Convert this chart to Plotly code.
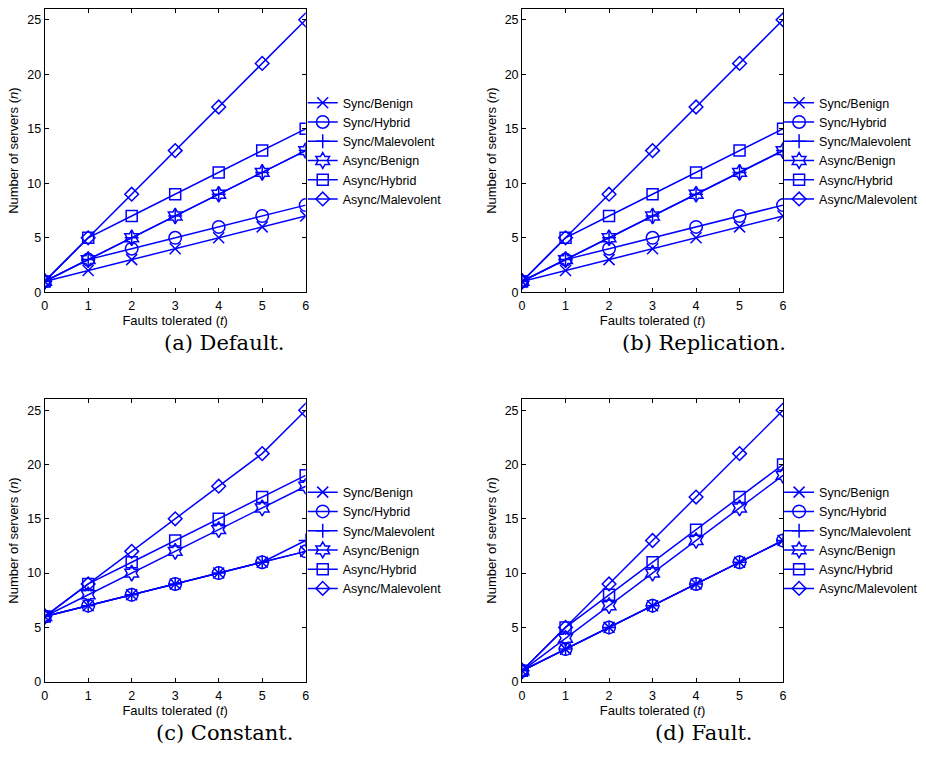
import plotly.graph_objects as go

# ---------------- data ----------------
t = [0, 1, 2, 3, 4, 5, 6]
series_names = ["Sync/Benign", "Sync/Hybrid", "Sync/Malevolent",
                "Async/Benign", "Async/Hybrid", "Async/Malevolent"]

default_sync_benign = [1, 2, 3, 4, 5, 6, 7]
default_sync_hybrid = [1, 3, 4, 5, 6, 7, 8]
default_sync_malevolent = [1, 3, 5, 7, 9, 11, 13]
default_async_benign = [1, 3, 5, 7, 9, 11, 13]
default_async_hybrid = [1, 5, 7, 9, 11, 13, 15]
default_async_malevolent = [1, 5, 9, 13, 17, 21, 25]

replication_sync_benign = [1, 2, 3, 4, 5, 6, 7]
replication_sync_hybrid = [1, 3, 4, 5, 6, 7, 8]
replication_sync_malevolent = [1, 3, 5, 7, 9, 11, 13]
replication_async_benign = [1, 3, 5, 7, 9, 11, 13]
replication_async_hybrid = [1, 5, 7, 9, 11, 13, 15]
replication_async_malevolent = [1, 5, 9, 13, 17, 21, 25]

constant_sync_benign = [6, 7, 8, 9, 10, 11, 12]
constant_sync_hybrid = [6, 7, 8, 9, 10, 11, 12]
constant_sync_malevolent = [6, 7, 8, 9, 10, 11, 13]
constant_async_benign = [6, 8, 10, 12, 14, 16, 18]
constant_async_hybrid = [6, 9, 11, 13, 15, 17, 19]
constant_async_malevolent = [6, 9, 12, 15, 18, 21, 25]

fault_sync_benign = [1, 3, 5, 7, 9, 11, 13]
fault_sync_hybrid = [1, 3, 5, 7, 9, 11, 13]
fault_sync_malevolent = [1, 3, 5, 7, 9, 11, 13]
fault_async_benign = [1, 4, 7, 10, 13, 16, 19]
fault_async_hybrid = [1, 5, 8, 11, 14, 17, 20]
fault_async_malevolent = [1, 5, 9, 13, 17, 21, 25]

x_ticks = [0, 1, 2, 3, 4, 5, 6]
y_ticks = [0, 5, 10, 15, 20, 25]
captions = ["(a) Default.", "(b) Replication.", "(c) Constant.", "(d) Fault."]

panels = [
    [default_sync_benign, default_sync_hybrid, default_sync_malevolent,
     default_async_benign, default_async_hybrid, default_async_malevolent],
    [replication_sync_benign, replication_sync_hybrid, replication_sync_malevolent,
     replication_async_benign, replication_async_hybrid, replication_async_malevolent],
    [constant_sync_benign, constant_sync_hybrid, constant_sync_malevolent,
     constant_async_benign, constant_async_hybrid, constant_async_malevolent],
    [fault_sync_benign, fault_sync_hybrid, fault_sync_malevolent,
     fault_async_benign, fault_async_hybrid, fault_async_malevolent],
]

# ---------------- style ----------------
W, H = 926, 764
BLUE = "#0000FF"
SANS = "Liberation Sans, Arial, sans-serif"
symbols = ["x-thin-open", "circle-open", "cross-thin-open",
           "hexagram-open", "square-open", "diamond-open"]
sizes = [11, 12.5, 10, 12, 11, 10.5]

# pixel boxes of the axes: (left, right, top, bottom)
boxes = [(42, 305, 9, 295), (523, 786, 9, 295),
         (42, 305, 403, 688), (523, 786, 403, 688)]
legend_x_px = [302, 782, 302, 782]
legend_yc_px = [152.5, 152.5, 545.5, 545.5]
caption_xc_px = [223, 706, 223, 706]
caption_yc_px = [346, 346, 740, 740]

fig = go.Figure()
layout = dict(
    width=W, height=H,
    margin=dict(l=0, r=0, t=0, b=0),
    paper_bgcolor="white", plot_bgcolor="white",
    font=dict(family=SANS, size=12, color="black"),
    annotations=[],
)

for i, data in enumerate(panels):
    k = "" if i == 0 else str(i + 1)
    leg = "legend" if i == 0 else f"legend{i + 1}"
    for j, (name, ys) in enumerate(zip(series_names, data)):
        fig.add_trace(go.Scatter(
            x=t, y=ys, name=name, mode="lines+markers",
            line=dict(color=BLUE, width=1.5),
            marker=dict(symbol=symbols[j], size=sizes[j], color=BLUE,
                        line=dict(color=BLUE, width=1.5)),
            xaxis=f"x{k}", yaxis=f"y{k}", legend=leg,
        ))
    l, r, tp, b = boxes[i]
    axis_common = dict(
        showline=True, linecolor="black", linewidth=1, mirror="ticks",
        ticks="inside", ticklen=4, tickwidth=1, tickcolor="black",
        showgrid=False, zeroline=False,
        tickfont=dict(size=12.5, family=SANS),
    )
    layout[f"xaxis{k}"] = dict(
        axis_common, domain=[l / W, r / W], range=[0, 6],
        tickvals=x_ticks, anchor=f"y{k}", ticklabelstandoff=2,
        title=dict(text="Faults tolerated (<i>t</i>)", font=dict(size=13), standoff=0),
    )
    layout[f"yaxis{k}"] = dict(
        axis_common, domain=[1 - b / H, 1 - tp / H], range=[0, 26],
        tickvals=y_ticks, anchor=f"x{k}",
        title=dict(text="Number of servers (<i>n</i>)", font=dict(size=13), standoff=5),
    )
    layout[leg] = dict(
        x=legend_x_px[i] / W, xanchor="left",
        y=1 - legend_yc_px[i] / H, yanchor="middle",
        bgcolor="rgba(0,0,0,0)", borderwidth=0,
        font=dict(size=12.5, family=SANS),
        tracegroupgap=0,
    )
    layout["annotations"].append(dict(
        text=captions[i], xref="paper", yref="paper",
        x=caption_xc_px[i] / W, y=1 - caption_yc_px[i] / H,
        xanchor="center", yanchor="middle", showarrow=False,
        font=dict(family="DejaVu Serif, Liberation Serif, serif", size=21, color="black"),
    ))

fig.update_layout(**layout)
fig.write_html("out.html")
